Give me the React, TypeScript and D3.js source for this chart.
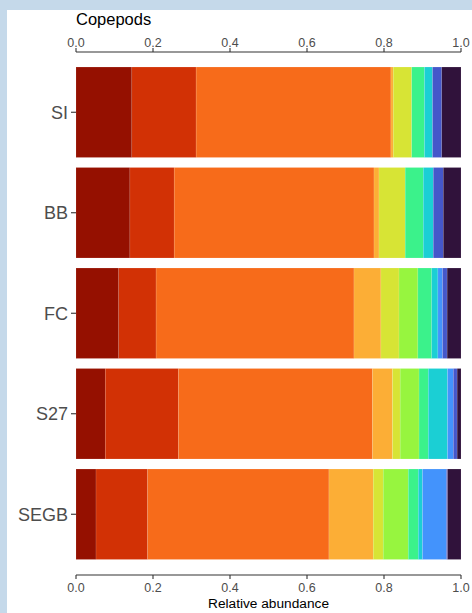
import React from "react";
import * as d3 from "d3";

// sites, top to bottom
const sites = ["SI", "BB", "FC", "S27", "SEGB"];

// taxon groups, in stacking order (left to right)
const groups = ["g1", "g2", "g3", "g4", "g5", "g6", "g7", "g8", "g9", "g10", "g11"];
const groupColors = [
  "#951000", "#D23105", "#F76B1A", "#FCAE36", "#D7E435", "#97F53F",
  "#3BF28B", "#1BCFD4", "#4393FC", "#4557CA", "#30123B",
];

// relative abundance per site, same order as groups
const SI = [0.145, 0.167, 0.506, 0.006, 0.048, 0.0, 0.033, 0.021, 0.0, 0.024, 0.05];
const BB = [0.14, 0.115, 0.519, 0.013, 0.068, 0.0, 0.047, 0.026, 0.0, 0.026, 0.046];
const FC = [0.111, 0.097, 0.514, 0.07, 0.047, 0.049, 0.036, 0.016, 0.012, 0.012, 0.036];
const S27 = [0.076, 0.19, 0.504, 0.052, 0.02, 0.049, 0.024, 0.05, 0.015, 0.01, 0.01];
const SEGB = [0.052, 0.134, 0.471, 0.115, 0.026, 0.065, 0.026, 0.011, 0.062, 0.003, 0.035];

const xTicks = [0, 0.2, 0.4, 0.6, 0.8, 1.0];

const W = 472;
const H = 613;
const FONT = "'Liberation Sans', Arial, sans-serif";

export default function App() {
  const values = [SI, BB, FC, S27, SEGB];
  const rows = sites.map((s, i) => {
    const r: any = { site: s };
    groups.forEach((g, j) => (r[g] = values[i][j]));
    return r;
  });
  const series = d3.stack().keys(groups)(rows);

  const x = d3.scaleLinear().domain([0, 1]).range([76, 461]);
  const y = d3
    .scaleBand()
    .domain(sites)
    .range([62, 564.5])
    .paddingInner(0.1)
    .paddingOuter(0.05);
  const color = d3.scaleOrdinal<string, string>().domain(groups).range(groupColors);

  const topY = 52;
  const botY = 575;

  return (
    <svg
      width={W}
      height={H}
      style={{ position: "absolute", left: 0, top: 0, display: "block" }}
    >
      <rect x={0} y={0} width={W} height={H} fill="#c5d9ea" />
      <rect x={7} y={10} width={W - 7} height={H - 10} fill="#ffffff" />

      <text x={76} y={25} fontFamily={FONT} fontSize={16.5} fill="#000">
        Copepods
      </text>

      {series.map((s) => (
        <g key={s.key} fill={color(s.key)}>
          {s.map((d: any) => (
            <rect
              key={d.data.site}
              x={x(d[0])}
              y={y(d.data.site)}
              width={Math.max(0, x(d[1]) - x(d[0]))}
              height={y.bandwidth()}
              stroke="rgba(255,255,255,0.18)"
              strokeWidth={0.6}
            />
          ))}
        </g>
      ))}

      {/* top axis */}
      <line x1={x(0)} x2={x(1)} y1={topY} y2={topY} stroke="#333" strokeWidth={1.1} />
      {xTicks.map((t) => (
        <g key={"t" + t}>
          <line x1={x(t)} x2={x(t)} y1={topY} y2={topY - 4} stroke="#333" strokeWidth={1.1} />
          <text
            x={x(t)}
            y={topY - 5}
            textAnchor="middle"
            fontFamily={FONT}
            fontSize={12.5}
            fill="#4d4d4d"
          >
            {t.toFixed(1)}
          </text>
        </g>
      ))}

      {/* bottom axis */}
      <line x1={x(0)} x2={x(1)} y1={botY} y2={botY} stroke="#333" strokeWidth={1.1} />
      {xTicks.map((t) => (
        <g key={"b" + t}>
          <line x1={x(t)} x2={x(t)} y1={botY} y2={botY + 4} stroke="#333" strokeWidth={1.1} />
          <text
            x={x(t)}
            y={botY + 17}
            textAnchor="middle"
            fontFamily={FONT}
            fontSize={12.5}
            fill="#4d4d4d"
          >
            {t.toFixed(1)}
          </text>
        </g>
      ))}
      <text
        x={(x(0) + x(1)) / 2}
        y={608}
        textAnchor="middle"
        fontFamily={FONT}
        fontSize={13.7}
        fill="#000"
      >
        Relative abundance
      </text>

      {/* y axis ticks and labels */}
      {sites.map((s) => {
        const cy = (y(s) as number) + y.bandwidth() / 2;
        return (
          <g key={s}>
            <line x1={71} x2={76} y1={cy} y2={cy} stroke="#333" strokeWidth={1.1} />
            <text
              x={68}
              y={cy}
              dy="0.36em"
              textAnchor="end"
              fontFamily={FONT}
              fontSize={18}
              fill="#4d4d4d"
            >
              {s}
            </text>
          </g>
        );
      })}
    </svg>
  );
}
